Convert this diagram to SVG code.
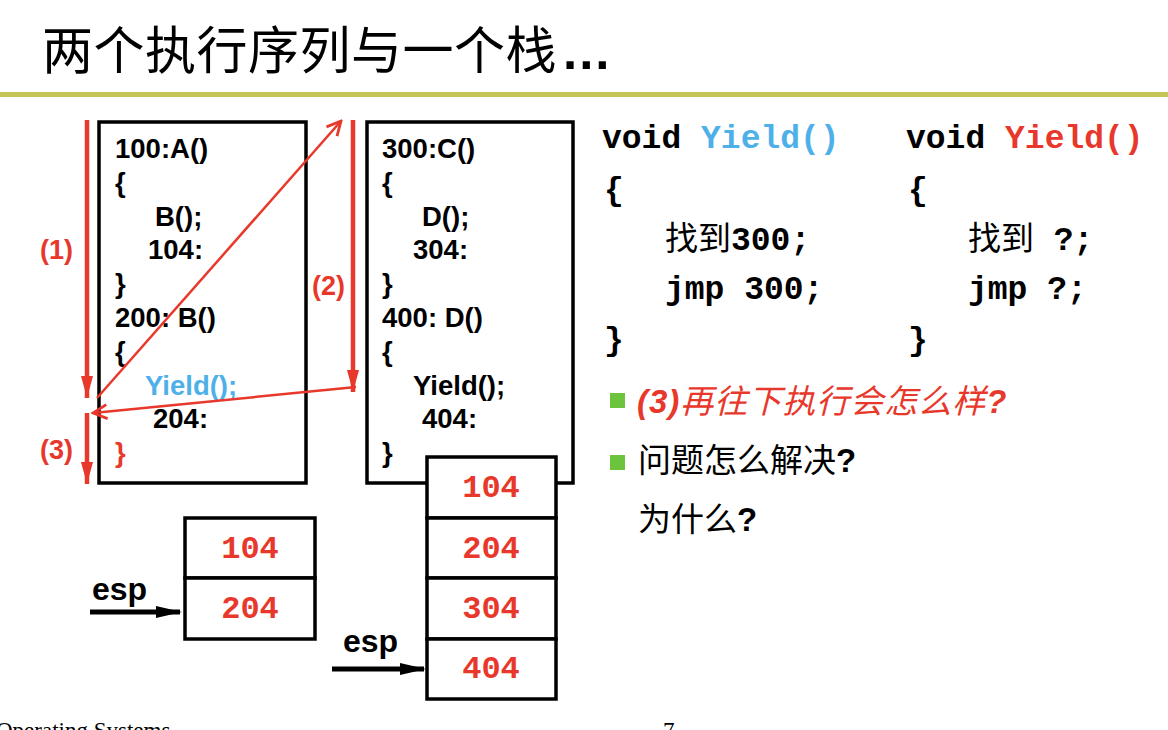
<svg xmlns="http://www.w3.org/2000/svg" width="1168" height="730" viewBox="0 0 1168 730">
<style>
.code{font-family:"Liberation Sans",Arial,sans-serif;font-weight:bold;font-size:27.5px;fill:#000}
.mono{font-family:"Liberation Mono","Courier New","Noto Sans CJK SC",monospace;font-weight:bold;font-size:33px;fill:#000}
.cjk{font-family:"Noto Sans CJK SC",sans-serif;font-weight:normal}
.red{fill:#e8382b}
.blue{fill:#4eb0e8}
.lbl{font-family:"Liberation Sans",Arial,sans-serif;font-weight:bold;font-size:27px;fill:#e8382b}
.box{fill:#fff;stroke:#000;stroke-width:3.5}
.cell{fill:#fff;stroke:#000;stroke-width:3.5}
.num{font-family:"Liberation Mono","Courier New",monospace;font-weight:bold;font-size:32px;fill:#e8382b;text-anchor:middle}
.esp{font-family:"Liberation Sans",Arial,sans-serif;font-weight:bold;font-size:32px;fill:#000}
.flow{stroke:#e8382b;stroke-width:4.5;fill:none}
.jump{stroke:#e8382b;stroke-width:2.5;fill:none}
.ptr{stroke:#000;stroke-width:5;fill:none}
.bul{font-family:"Liberation Sans","Noto Sans CJK SC",sans-serif;font-size:33px}
</style>
<defs>
<marker id="redHead" markerUnits="userSpaceOnUse" markerWidth="22" markerHeight="12" refX="22" refY="6" orient="auto" viewBox="0 0 22 12">
<path d="M0,0 L22,6 L0,12 Z" fill="#e8382b"/>
</marker>
<marker id="vHead" markerUnits="userSpaceOnUse" markerWidth="18" markerHeight="18" refX="16" refY="9" orient="auto" viewBox="0 0 18 18">
<path d="M2,2 L16,9 L2,16" fill="none" stroke="#e8382b" stroke-width="2.8"/>
</marker>
<marker id="blackHead" markerUnits="userSpaceOnUse" markerWidth="26" markerHeight="12" refX="24" refY="6" orient="auto" viewBox="0 0 26 12">
<path d="M0,0 L26,6 L0,12 Z" fill="#000"/>
</marker>
</defs>
<rect x="0" y="0" width="1168" height="730" fill="#fff"/>

<g id="title">
<text x="42" y="69" style="font-family:'Noto Sans CJK SC',sans-serif;font-size:51px" fill="#000" letter-spacing="0.5">两个执行序列与一个栈<tspan style="font-family:'Liberation Sans',Arial,sans-serif;font-weight:bold" dx="6" letter-spacing="2">...</tspan></text>
<rect x="0" y="92" width="1168" height="5" fill="#c4c458"/>
</g>

<g id="code-left">
<rect class="box" x="99" y="122" width="207" height="361"/>
<text class="code" x="115" y="158">100:A()</text>
<text class="code" x="115" y="192">{</text>
<text class="code" x="155" y="226">B();</text>
<text class="code" x="148" y="259">104:</text>
<text class="code" x="115" y="293">}</text>
<text class="code" x="115" y="327">200: B()</text>
<text class="code" x="115" y="361">{</text>
<text class="code blue" x="145" y="395">Yield();</text>
<text class="code" x="153" y="428">204:</text>
<text class="code red" x="115" y="462">}</text>
</g>

<g id="code-right">
<rect class="box" x="367" y="122" width="206" height="361"/>
<text class="code" x="382" y="158">300:C()</text>
<text class="code" x="382" y="192">{</text>
<text class="code" x="422" y="226">D();</text>
<text class="code" x="413" y="259">304:</text>
<text class="code" x="382" y="293">}</text>
<text class="code" x="382" y="327">400: D()</text>
<text class="code" x="382" y="361">{</text>
<text class="code" x="413" y="395">Yield();</text>
<text class="code" x="422" y="428">404:</text>
<text class="code" x="382" y="462">}</text>
</g>

<g id="stack1">
<rect class="cell" x="185" y="518" width="130" height="60"/>
<rect class="cell" x="185" y="578" width="130" height="61"/>
<text class="num" x="250" y="558">104</text>
<text class="num" x="250" y="618">204</text>
</g>

<g id="stack2">
<rect class="cell" x="427" y="457" width="129" height="61"/>
<rect class="cell" x="427" y="518" width="129" height="60"/>
<rect class="cell" x="427" y="578" width="129" height="61"/>
<rect class="cell" x="427" y="639" width="129" height="60"/>
<text class="num" x="491" y="497">104</text>
<text class="num" x="491" y="558">204</text>
<text class="num" x="491" y="618">304</text>
<text class="num" x="491" y="678">404</text>
</g>

<g id="esp1">
<text class="esp" x="92" y="600">esp</text>
</g>
<g id="esp2">
<text class="esp" x="343" y="652">esp</text>
</g>

<g id="labels">
<text class="lbl" x="40" y="259">(1)</text>
<text class="lbl" x="312" y="295">(2)</text>
<text class="lbl" x="40" y="459">(3)</text>
</g>

<g id="connectors">
<line class="flow" x1="87" y1="120" x2="87" y2="398" marker-end="url(#redHead)"/>
<line class="flow" x1="87" y1="413" x2="87" y2="484" marker-end="url(#redHead)"/>
<line class="flow" x1="353" y1="120" x2="353" y2="392" marker-end="url(#redHead)"/>
<line class="jump" x1="97" y1="398" x2="341" y2="121" marker-end="url(#vHead)"/>
<line class="jump" x1="356" y1="387" x2="93" y2="413" marker-end="url(#vHead)"/>
<line class="ptr" x1="90" y1="612" x2="180" y2="612" marker-end="url(#blackHead)"/>
<line class="ptr" x1="332" y1="669" x2="424" y2="669" marker-end="url(#blackHead)"/>
</g>

<g id="yield-blue">
<text class="mono" x="602" y="148">void <tspan class="blue">Yield()</tspan></text>
<text class="mono" x="604" y="200">{</text>
<text class="mono" x="665" y="250"><tspan class="cjk">找到</tspan>300;</text>
<text class="mono" x="665" y="299">jmp 300;</text>
<text class="mono" x="604" y="350">}</text>
</g>

<g id="yield-red">
<text class="mono" x="906" y="148">void <tspan class="red">Yield()</tspan></text>
<text class="mono" x="908" y="200">{</text>
<text class="mono" x="968" y="250"><tspan class="cjk">找到</tspan> ?;</text>
<text class="mono" x="968" y="299">jmp ?;</text>
<text class="mono" x="908" y="350">}</text>
</g>

<g id="bullets">
<rect x="610" y="393" width="15" height="15" fill="#6cc43c"/>
<text class="bul" x="637" y="413" fill="#e8382b" font-style="italic" letter-spacing="1"><tspan font-weight="bold">(3)</tspan>再往下执行会怎么样<tspan font-weight="bold">?</tspan></text>
<rect x="610" y="455" width="15" height="15" fill="#6cc43c"/>
<text class="bul" x="638" y="472" fill="#000">问题怎么解决<tspan font-weight="bold">?</tspan></text>
<text class="bul" x="638" y="531" fill="#000">为什么<tspan font-weight="bold">?</tspan></text>
</g>

<g id="footer">
<text x="-4" y="738" style="font-family:'Liberation Serif','Times New Roman',serif;font-size:23px" fill="#000">Operating Systems</text>
<text x="663" y="738" style="font-family:'Liberation Serif','Times New Roman',serif;font-size:23px" fill="#000">7</text>
</g>
</svg>
